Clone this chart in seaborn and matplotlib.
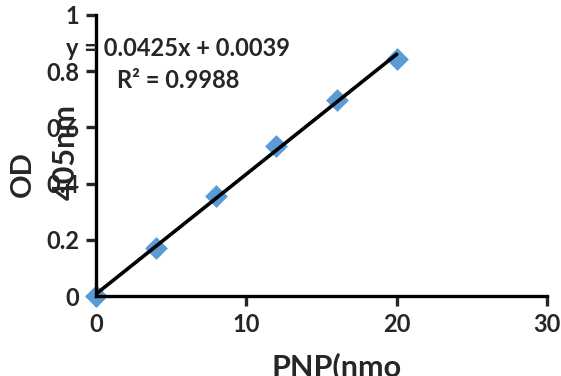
import numpy as np
import pandas as pd
import matplotlib
matplotlib.use("Agg")
import matplotlib.pyplot as plt
import seaborn as sns

# PNP standard curve readings
pnp_nmol = [0, 4, 8, 12, 16, 20]
od_405 = [0.0, 0.171, 0.356, 0.534, 0.698, 0.843]
x_ticks = [0, 10, 20, 30]
y_ticks = [0, 0.2, 0.4, 0.6, 0.8, 1]
y_tick_labels = ["0", "0.2", "0.4", "0.6", "0.8", "1"]
equation_text = "y = 0.0425x + 0.0039"
r2_text = "R² = 0.9988"

df = pd.DataFrame({"PNP": pnp_nmol, "OD": od_405})

sns.set_style("white")
plt.rcParams["font.family"] = ["Lato", "DejaVu Sans"]
plt.rcParams["font.weight"] = "bold"

fig = plt.figure(figsize=(5.61, 3.76), dpi=100)
ax = fig.add_axes([96 / 561, 1 - 296 / 376, (547 - 96) / 561, (296 - 15) / 376])

sns.regplot(data=df, x="PNP", y="OD", ci=None, ax=ax, marker="D",
            scatter_kws={"color": "#5B9BD5", "s": 135, "alpha": 1,
                         "linewidths": 0, "clip_on": False},
            line_kws={"color": "black", "lw": 2.6})

ax.set_xlim(0, 30)
ax.set_ylim(0, 1)
ax.set_xticks(x_ticks)
ax.set_yticks(y_ticks)
ax.set_yticklabels(y_tick_labels)
ax.tick_params(axis="both", direction="out", length=7, width=2.4, labelsize=17,
               left=True, bottom=True, pad=5)
for lbl in ax.get_xticklabels() + ax.get_yticklabels():
    lbl.set_fontweight("bold")
for side in ["top", "right"]:
    ax.spines[side].set_visible(False)
for side in ["left", "bottom"]:
    ax.spines[side].set_color("black")
    ax.spines[side].set_linewidth(2.4)
ax.set_xlabel("")
ax.set_ylabel("")

# axis titles (overlapping the tick labels, as in the original)
fig.text(23 / 561, 1 - 174 / 376, "OD", rotation=90, ha="center", va="center",
         fontsize=21, fontweight="bold")
fig.text(66 / 561, 1 - 152 / 376, "405nm", rotation=90, ha="center", va="center",
         fontsize=22, fontweight="bold")
fig.text(337 / 561, 1 - 352 / 376, "PNP(nmo", ha="center", va="top",
         fontsize=22, fontweight="bold")

# trendline equation
fig.text(66 / 561, 1 - 48 / 376, equation_text, ha="left", va="center",
         fontsize=17, fontweight="bold")
fig.text(117 / 561, 1 - 80 / 376, r2_text, ha="left", va="center",
         fontsize=17, fontweight="bold")

plt.savefig("out.png", dpi=100)
